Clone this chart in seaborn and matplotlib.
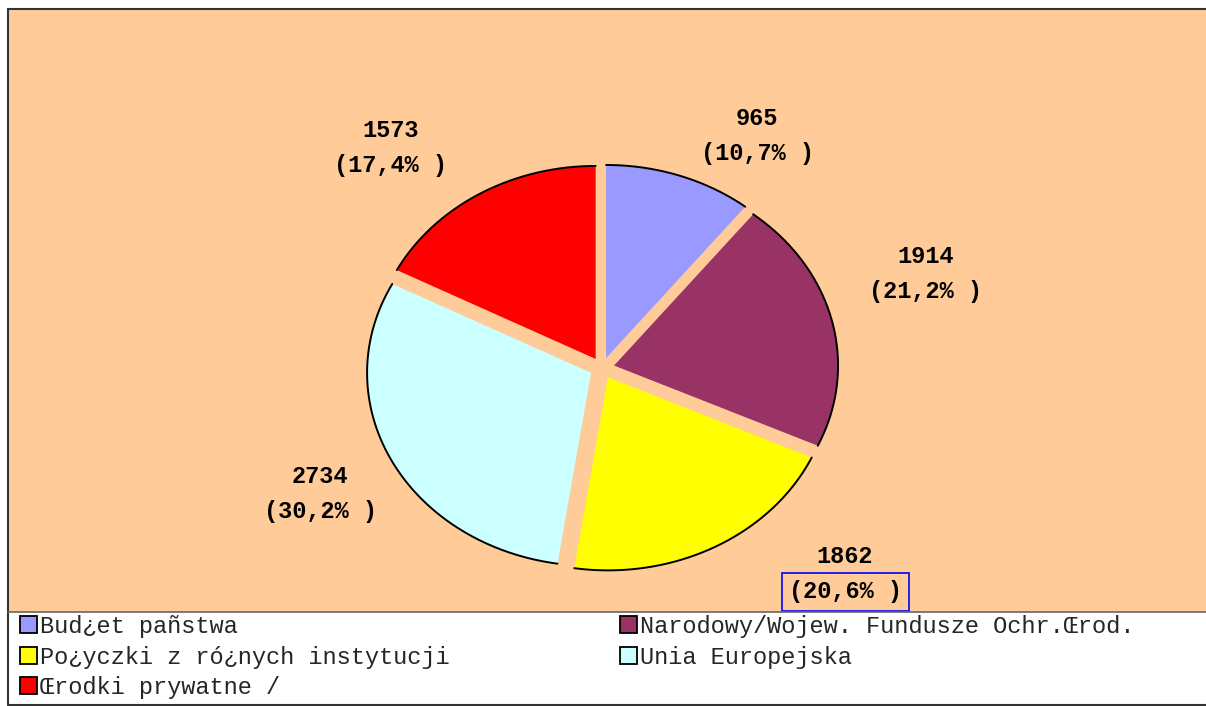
import matplotlib
matplotlib.use("Agg")
import matplotlib.pyplot as plt
import seaborn as sns
import numpy as np
from matplotlib.patches import Rectangle, Patch
from matplotlib.lines import Line2D
from matplotlib.transforms import offset_copy
from matplotlib.font_manager import FontProperties

# ---------------- data ----------------
categories = ["Bud¿et pañstwa",
              "Narodowy/Wojew. Fundusze Ochr.Œrod.",
              "Po¿yczki z ró¿nych instytucji",
              "Unia Europejska",
              "Œrodki prywatne /"]
values = [965, 1914, 1862, 2734, 1573]
colors = ["#9999FF", "#993366", "#FFFF00", "#CCFFFF", "#FF0000"]

# label anchor positions (data units of the pie axes, layout only)
label_pos = [(0.692, 1.295), (1.446, 0.580), (1.085, -0.979),
             (-1.259, -0.560), (-0.946, 1.228)]
boxed_label = 2  # the percentage label drawn with a blue frame

sns.set_theme(style="white")
plt.rcParams['font.family'] = ['Liberation Mono', 'DejaVu Sans']

W, H = 1206, 706
fig = plt.figure(figsize=(W / 100, H / 100), dpi=100)
fig.patch.set_facecolor("white")

def fx(px):
    return px / W

def fy(py):
    return 1 - py / H

# orange plot area
fig.add_artist(Rectangle((fx(8), fy(612)), fx(1206) - fx(8), fy(9) - fy(612),
                         transform=fig.transFigure, facecolor="#FFCC99",
                         edgecolor="none", zorder=0))
# white legend area
fig.add_artist(Rectangle((fx(8), fy(705)), fx(1206) - fx(8), fy(612) - fy(705),
                         transform=fig.transFigure, facecolor="white",
                         edgecolor="none", zorder=2))
# borders
for (x0, y0, x1, y1, c, lw) in [(8, 9, 1206, 9, "#333333", 1.5),
                                (8, 9, 8, 705, "#333333", 1.5),
                                (8, 612, 1206, 612, "#666666", 1.2),
                                (8, 705, 1206, 705, "#333333", 1.5)]:
    fig.add_artist(Line2D([fx(x0), fx(x1)], [fy(y0), fy(y1)],
                          transform=fig.transFigure, color=c, lw=lw, zorder=3))

# pie axes
ax = fig.add_axes([fx(8), fy(612), fx(1206) - fx(8), fy(9) - fy(612)])
ax.set_zorder(1)
ax.patch.set_alpha(0)
wedges, _ = ax.pie(values, colors=colors, startangle=90, counterclock=False,
                   explode=[0.055] * len(values),
                   wedgeprops=dict(linewidth=0))
ax.set_aspect('auto')
ax.set_xlim(-2.652, 2.696)
ax.set_ylim(-1.264, 1.860)
ax.set_axis_off()

# outer arc outlines only
for w in wedges:
    cx, cy = w.center
    t = np.radians(np.linspace(w.theta1, w.theta2, 200))
    ax.plot(cx + w.r * np.cos(t), cy + w.r * np.sin(t), color="black", lw=1.4)

# labels
total = sum(values)
lab_font = dict(family=['Liberation Mono', 'DejaVu Sans'], weight='bold', size=17)
pct_trans = offset_copy(ax.transData, fig=fig, x=0, y=-35, units='dots')
for i, (v, (lx, ly)) in enumerate(zip(values, label_pos)):
    pct = f"({100 * v / total:.1f}".replace('.', ',') + "% )"
    ax.text(lx, ly, str(v), ha='center', va='center', color='black', **lab_font)
    kw = {}
    if i == boxed_label:
        kw['bbox'] = dict(boxstyle='square,pad=0.3', fc='none', ec='#0000FF', lw=1.2)
    ax.text(lx, ly, pct, ha='center', va='center', color='black',
            transform=pct_trans, **lab_font, **kw)

# legend (two columns, row-wise order)
handles = [Patch(facecolor=c, edgecolor='black', lw=1.3) for c in colors]
prop = FontProperties(family='Liberation Mono', size=17)
common = dict(frameon=False, prop=prop, handlelength=0.74, handleheight=0.74,
              handletextpad=0.12, labelspacing=0.32, borderpad=0,
              borderaxespad=0, loc='upper left')
leg1 = fig.legend([handles[0], handles[2], handles[4]],
                  [categories[0], categories[2], categories[4]],
                  bbox_to_anchor=(fx(20), fy(615)), **common)
leg2 = fig.legend([handles[1], handles[3]],
                  [categories[1], categories[3]],
                  bbox_to_anchor=(fx(620), fy(615)), **common)
for leg in (leg1, leg2):
    leg.set_zorder(5)

fig.savefig("out.png", dpi=100)
